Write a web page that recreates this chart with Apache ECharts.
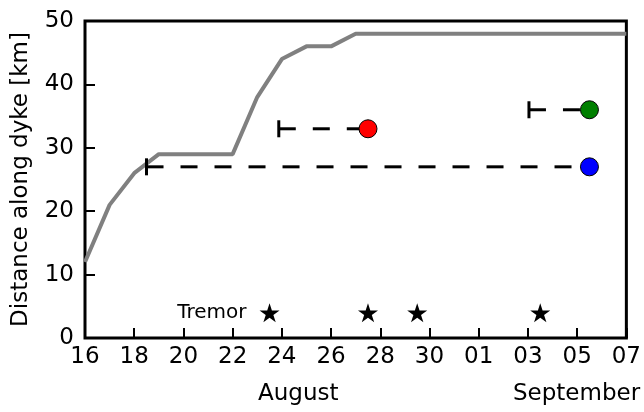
<!DOCTYPE html>
<html>
<head>
<meta charset="utf-8">
<script src="https://cdn.jsdelivr.net/npm/echarts@6/dist/echarts.min.js"></script>
<style>
  html, body { margin: 0; padding: 0; background: #fff; }
  #chart { width: 644px; height: 412px; }
</style>
</head>
<body>
<div id="chart"></div>
<script>
// Dyke propagation front (km along the dyke) by date
const frontDates = ['2014-08-16', '2014-08-17', '2014-08-18', '2014-08-19', '2014-08-22',
                    '2014-08-23', '2014-08-24', '2014-08-25', '2014-08-26', '2014-08-27', '2014-09-07'];
const frontKm    = [12, 21, 26, 29, 29, 38, 44, 46, 46, 48, 48];

// Observation intervals: start date, observed date, distance, marker colour
const obsStart  = ['2014-08-18 12:00', '2014-08-23 21:00', '2014-09-03 01:00'];
const obsEnd    = ['2014-09-05 12:00', '2014-08-27 12:00', '2014-09-05 12:00'];
const obsKm     = [27, 33, 36];
const obsColors = ['#0000ff', '#ff0000', '#007f00'];

// Tremor episodes
const tremorDates = ['2014-08-23 12:00', '2014-08-27 12:00', '2014-08-29 12:00', '2014-09-03 12:00'];
const tremorKm    = [4, 4, 4, 4];

// x-axis range
const xStart = '2014-08-16';
const xEnd   = '2014-09-07';

const DAY = 86400000;
function toMs(s) {
  const [d, t] = s.split(' ');
  const [Y, M, D] = d.split('-').map(Number);
  let h = 0, m = 0;
  if (t) { [h, m] = t.split(':').map(Number); }
  return Date.UTC(Y, M - 1, D, h, m);
}

const FONT = 'DejaVu Sans';
const STAR = 'path://M50,0 L61.2,34.5 L97.6,34.5 L68.2,55.9 L79.4,90.5 L50,69.1 L20.6,90.5 L31.8,55.9 L2.4,34.5 L38.8,34.5 Z';

const series = [];

// Propagation front
series.push({
  type: 'line',
  data: frontDates.map((d, i) => [toMs(d), frontKm[i]]),
  showSymbol: false,
  lineStyle: { color: '#808080', width: 4 },
  z: 2,
  animation: false
});

// Dashed intervals with start caps and end markers
obsKm.forEach((km, i) => {
  series.push({
    type: 'line',
    data: [[toMs(obsStart[i]), km], [toMs(obsEnd[i]), km]],
    showSymbol: false,
    lineStyle: { color: '#000', width: 3, type: [17, 17] },
    z: 3,
    animation: false
  });
  series.push({
    type: 'scatter',
    data: [[toMs(obsStart[i]), km]],
    symbol: 'rect',
    symbolSize: [3, 17],
    itemStyle: { color: '#000', opacity: 1 },
    z: 4,
    animation: false
  });
  series.push({
    type: 'scatter',
    data: [[toMs(obsEnd[i]), km]],
    symbol: 'circle',
    symbolSize: 18,
    itemStyle: { color: obsColors[i], borderColor: '#000', borderWidth: 1, opacity: 1 },
    z: 5,
    animation: false
  });
});

// Tremor stars
series.push({
  type: 'scatter',
  data: tremorDates.map((d, i) => {
    const item = { value: [toMs(d), tremorKm[i]] };
    if (i === 0) {
      item.label = {
        show: true, position: 'left', distance: 13, formatter: 'Tremor',
        fontFamily: FONT, fontSize: 20, color: '#000', opacity: 1
      };
    }
    return item;
  }),
  symbol: STAR,
  symbolSize: [20, 19],
  itemStyle: { color: '#000', opacity: 1 },
  z: 5,
  animation: false
});

const chart = echarts.init(document.getElementById('chart'), null, { renderer: 'canvas' });
chart.setOption({
  animation: false,
  backgroundColor: '#fff',
  grid: {
    left: 85, right: 17, top: 21, bottom: 74,
    show: true, borderColor: '#000', borderWidth: 3, backgroundColor: 'transparent'
  },
  xAxis: {
    type: 'value',
    min: toMs(xStart),
    max: toMs(xEnd),
    interval: 2 * DAY,
    axisLine: { show: false },
    axisTick: { show: true, inside: true, length: 10, lineStyle: { color: '#000', width: 2 } },
    splitLine: { show: false },
    axisLabel: {
      color: '#000', fontFamily: FONT, fontSize: 23, margin: 8,
      formatter: v => String(new Date(v).getUTCDate()).padStart(2, '0')
    }
  },
  yAxis: {
    type: 'value',
    min: 0, max: 50, interval: 10,
    name: 'Distance along dyke [km]',
    nameLocation: 'middle',
    nameGap: 52,
    nameTextStyle: { color: '#000', fontFamily: FONT, fontSize: 23 },
    axisLine: { show: false },
    axisTick: { show: true, inside: true, length: 10, lineStyle: { color: '#000', width: 2 } },
    splitLine: { show: false },
    axisLabel: { color: '#000', fontFamily: FONT, fontSize: 23, margin: 11 }
  },
  graphic: [
    { type: 'text', left: 258, top: 383, style: { text: 'August', font: '23px "DejaVu Sans"', fill: '#000' } },
    { type: 'text', left: 513, top: 383, style: { text: 'September', font: '23px "DejaVu Sans"', fill: '#000' } }
  ],
  series: series
});
</script>
</body>
</html>
